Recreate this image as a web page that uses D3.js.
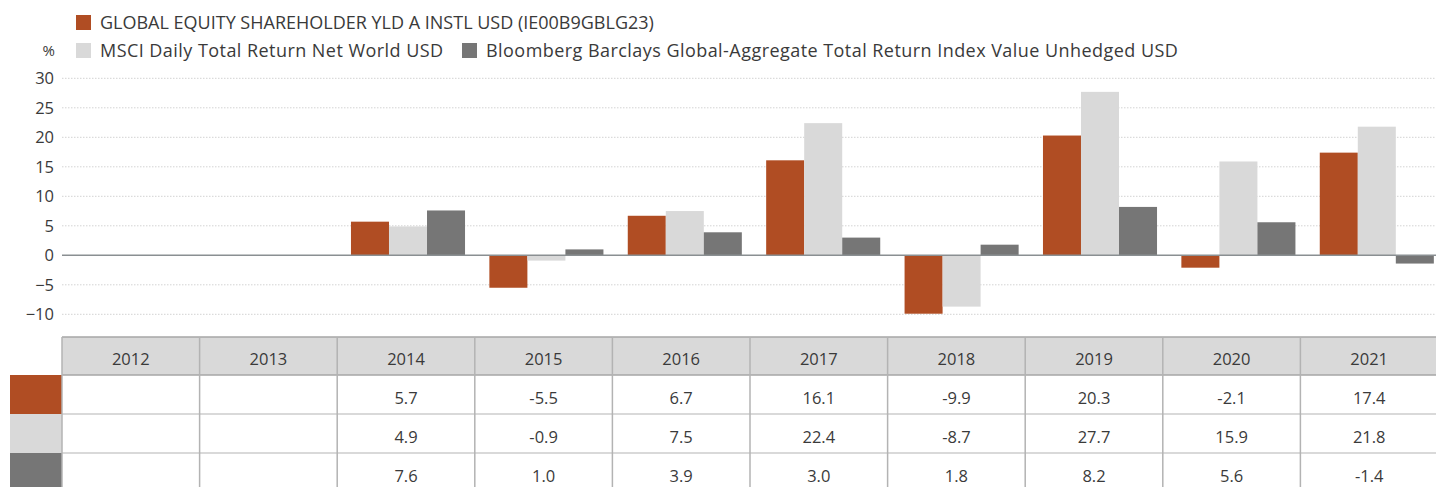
<!DOCTYPE html>
<html><head><meta charset="utf-8">
<script src="https://cdn.jsdelivr.net/npm/d3@7"></script>
<style>
html,body{margin:0;padding:0;background:#fff;overflow:hidden}
text{font-family:"Open Sans","Noto Sans",sans-serif;fill:#3a3a3a}
</style></head>
<body><svg id="c" width="1436" height="487"></svg>
<script>
const years = ["2012","2013","2014","2015","2016","2017","2018","2019","2020","2021"];
const seriesNames = ["GLOBAL EQUITY SHAREHOLDER YLD A INSTL USD (IE00B9GBLG23)","MSCI Daily Total Return Net World USD","Bloomberg Barclays Global-Aggregate Total Return Index Value Unhedged USD"];
const fundValues = [null,null,5.7,-5.5,6.7,16.1,-9.9,20.3,-2.1,17.4];
const msciValues = [null,null,4.9,-0.9,7.5,22.4,-8.7,27.7,15.9,21.8];
const bbgValues  = [null,null,7.6,1.0,3.9,3.0,1.8,8.2,5.6,-1.4];
const yTicks = [-10,-5,0,5,10,15,20,25,30];
const colors = ["#b04d23","#d9d9d9","#767676"];

const allSeries = [fundValues, msciValues, bbgValues];
const svg = d3.select("#c");

const x = d3.scaleBand().domain(years).range([62, 1446]).paddingInner(0).paddingOuter(0);
const xs = d3.scaleBand().domain(d3.range(3)).range([0, x.bandwidth()]).paddingInner(0).paddingOuter(0.32);
const y = d3.scaleLinear().domain([-10, 30]).range([314.3, 78.3]);

// gridlines
svg.append("g").selectAll("line").data(yTicks.filter(d=>d!==0)).join("line")
  .attr("x1",62).attr("x2",1436).attr("y1",d=>y(d)).attr("y2",d=>y(d))
  .attr("stroke","#d3d3d3").attr("stroke-width",1).attr("stroke-dasharray","1.5,1.5");

// y axis labels
const yAxis = d3.axisLeft(y).tickValues(yTicks).tickSize(0).tickPadding(0);
const ya = svg.append("g").attr("transform","translate(54,0)").call(yAxis);
ya.select(".domain").remove();
ya.selectAll("text").attr("font-size",16.5).style("font-family",'"Open Sans","Noto Sans",sans-serif').style("fill","#3a3a3a");
svg.append("text").attr("x",55).attr("y",56).attr("text-anchor","end").attr("font-size",15).text("%");

// bars
allSeries.forEach((vals,si)=>{
  svg.append("g").selectAll("rect").data(years.map((yr,i)=>({yr,v:vals[i]})).filter(d=>d.v!==null)).join("rect")
    .attr("x",d=>x(d.yr)+xs(si)).attr("width",xs.bandwidth())
    .attr("y",d=>y(Math.max(0,d.v))).attr("height",d=>Math.abs(y(d.v)-y(0)))
    .attr("fill",colors[si]);
});

// zero line
svg.append("line").attr("x1",62).attr("x2",1436).attr("y1",y(0)).attr("y2",y(0))
  .attr("stroke","#8a8f92").attr("stroke-width",1.5);

// legend
const leg = [{i:0,x:76,y:15,ls:0},{i:1,x:76,y:43,ls:0.45},{i:2,x:462,y:43,ls:0.45}];
leg.forEach(l=>{
  svg.append("rect").attr("x",l.x).attr("y",l.y).attr("width",15).attr("height",15).attr("fill",colors[l.i]);
  svg.append("text").attr("x",l.x+24).attr("y",l.y+14).attr("font-size",18).attr("letter-spacing",l.ls).text(seriesNames[l.i]);
});

// table
const tx = d3.scaleBand().domain(years).range([62, 1438]);
const rowTops = [375, 414, 453];
const rowBots = [414, 453, 487];
const tbl = svg.append("g");
tbl.append("rect").attr("x",62).attr("y",337).attr("width",1376).attr("height",38).attr("fill","#d9d9d9");
rowTops.forEach((t,i)=>{
  tbl.append("rect").attr("x",10).attr("y",t).attr("width",52).attr("height",rowBots[i]-t).attr("fill",colors[i]);
});
[337,375].forEach(yy=>tbl.append("line").attr("x1",62).attr("x2",1438).attr("y1",yy).attr("y2",yy).attr("stroke","#a6a6a6").attr("stroke-width",1.5));
[414,453].forEach(yy=>tbl.append("line").attr("x1",62).attr("x2",1438).attr("y1",yy).attr("y2",yy).attr("stroke","#cccccc").attr("stroke-width",1.5));
tbl.selectAll("line.v").data(years).join("line").attr("class","v")
  .attr("x1",d=>tx(d)).attr("x2",d=>tx(d)).attr("y1",337).attr("y2",487)
  .attr("stroke","#b3b3b3").attr("stroke-width",1.5);
tbl.selectAll("text.h").data(years).join("text").attr("class","h")
  .attr("x",d=>tx(d)+tx.bandwidth()/2).attr("y",365).attr("text-anchor","middle").attr("font-size",16.5).text(d=>d);
allSeries.forEach((vals,si)=>{
  tbl.append("g").selectAll("text").data(years.map((yr,i)=>({yr,v:vals[i]})).filter(d=>d.v!==null)).join("text")
    .attr("x",d=>tx(d.yr)+tx.bandwidth()/2).attr("y",rowTops[si]+29).attr("text-anchor","middle")
    .attr("font-size",16.5).text(d=>d.v.toFixed(1));
});
</script></body></html>
